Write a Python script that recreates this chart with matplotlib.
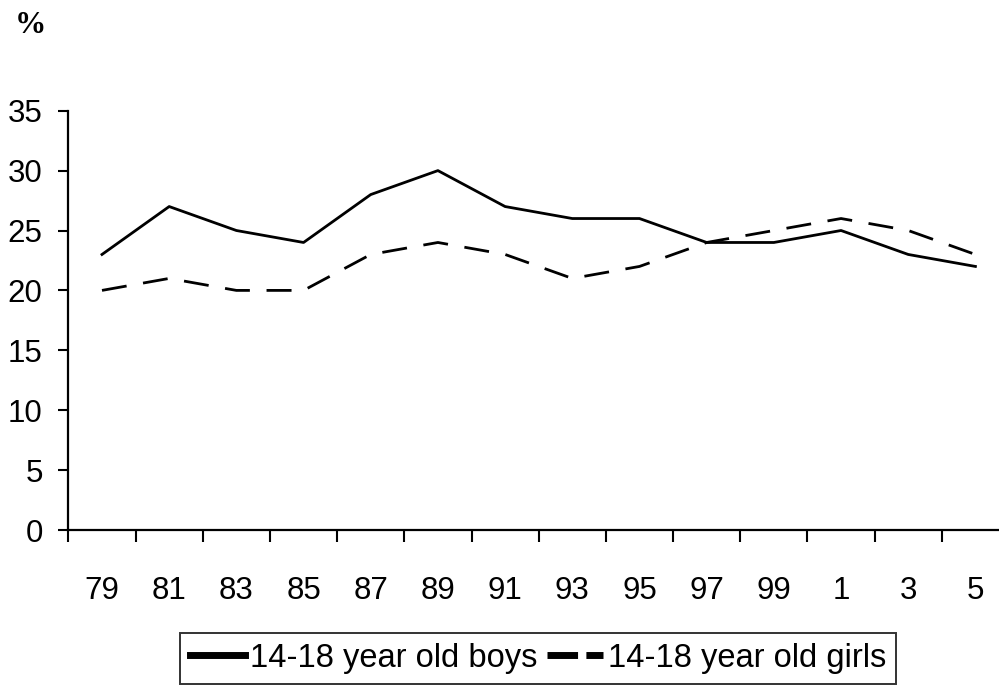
import numpy as np
import matplotlib
matplotlib.use('Agg')
import matplotlib.pyplot as plt
from matplotlib.ticker import FixedLocator

# data
years = ['79', '81', '83', '85', '87', '89', '91', '93', '95', '97', '99', '1', '3', '5']
boys = [23, 27, 25, 24, 28, 30, 27, 26, 26, 24, 24, 25, 23, 22]
girls = [20, 21, 20, 20, 23, 24, 23, 21, 22, 24, 25, 26, 25, 23]
y_ticks = [0, 5, 10, 15, 20, 25, 30, 35]

plt.rcParams['font.family'] = ['Liberation Sans', 'DejaVu Sans']

W, H = 999, 686
fig = plt.figure(figsize=(W / 100, H / 100), dpi=100)

# axes placed in pixel terms (right edge runs past the canvas, like the source)
left, right, bottom, top = 68.4, 1009.0, 530.0, 110.7
ax = fig.add_axes([left / W, 1 - bottom / H, (right - left) / W, (bottom - top) / H])

x = np.arange(len(years))
ax.plot(x, boys, color='black', lw=2.0, label='14-18 year old boys')
ax.plot(x, girls, color='black', lw=2.0, dashes=(9, 6), label='14-18 year old girls')

ax.set_xlim(-0.5, len(years) - 0.5)
ax.set_ylim(0, 35)
ax.set_yticks(y_ticks)

# labels at category centres, tick marks on category boundaries
ax.set_xticks(x)
ax.set_xticklabels(years)
ax.xaxis.set_minor_locator(FixedLocator(np.arange(-0.5, len(years), 1.0)))
ax.tick_params(axis='x', which='major', length=0, pad=33, labelsize=22.5)
ax.tick_params(axis='x', which='minor', length=8.5, width=1.5, direction='out')
ax.tick_params(axis='y', length=7.5, width=1.5, direction='out', pad=11, labelsize=22.5)

for s in ['top', 'right']:
    ax.spines[s].set_visible(False)
for s in ['left', 'bottom']:
    ax.spines[s].set_linewidth(1.6)

fig.text(15 / W, 1 - 33 / H, '%', family='Liberation Serif', fontweight='bold', fontsize=22.5,
         ha='left', va='baseline')

leg = fig.legend(loc='upper center', bbox_to_anchor=(538 / W, 1 - 633 / H), ncol=2,
                 fontsize=23.5, frameon=True, fancybox=False, edgecolor='black',
                 handlelength=1.7, handletextpad=0.15, columnspacing=0.3,
                 borderpad=0.3, borderaxespad=0)
leg.get_frame().set_linewidth(1.4)
hl = leg.get_lines()
hl[0].set_linewidth(5)
hl[1].set_linewidth(5)
hl[1].set_dashes((4.4, 1.2))

fig.savefig('out.png', dpi=100)
